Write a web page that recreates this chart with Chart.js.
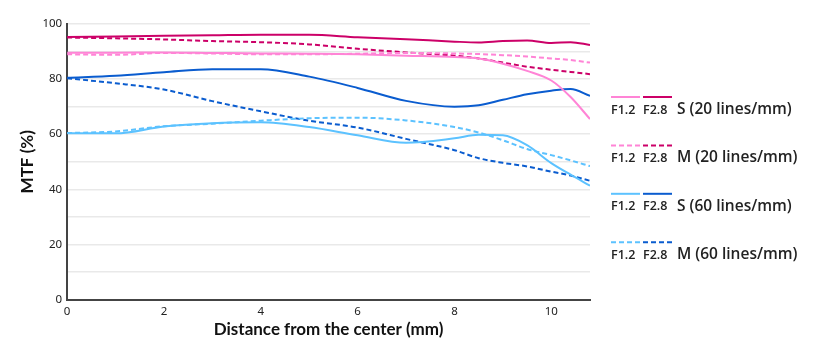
<!DOCTYPE html>
<html>
<head>
<meta charset="utf-8">
<style>
  html, body { margin: 0; padding: 0; background: #fff; }
  #wrap { width: 818px; height: 358px; position: relative; }
</style>
</head>
<body>
<div id="wrap">
    <canvas id="mtfChart"></canvas>
</div>
<script src="https://cdn.jsdelivr.net/npm/chart.js"></script>
<script>
    // distance from the center (mm)
    var distances = [0, 1, 2, 3, 4, 5, 6, 7, 8, 8.5, 9, 9.5, 10, 10.4, 10.8];

    // MTF values (%)
    var s20_f12 = [89.6, 89.6, 89.7, 89.5, 89.3, 89.2, 89.0, 88.5, 88.0, 87.5, 85.6, 83.0, 79.5, 73.5, 65.5];
    var s20_f28 = [95.3, 95.5, 95.7, 95.9, 96.1, 96.1, 95.2, 94.5, 93.6, 93.3, 93.8, 94.0, 93.1, 93.4, 92.4];
    var m20_f12 = [89.0, 88.8, 89.5, 89.3, 89.0, 89.0, 89.2, 89.5, 89.3, 89.1, 88.7, 88.2, 87.5, 86.9, 86.0];
    var m20_f28 = [95.1, 94.8, 94.4, 93.8, 93.4, 92.6, 91.0, 89.7, 88.5, 87.5, 86.0, 84.5, 83.4, 82.6, 81.8];
    var s60_f12 = [60.3, 60.3, 62.8, 64.0, 64.3, 62.6, 59.6, 56.9, 58.5, 59.8, 59.6, 56.0, 49.5, 45.3, 41.3];
    var s60_f28 = [80.5, 81.2, 82.5, 83.6, 83.6, 80.9, 76.8, 72.1, 70.0, 70.5, 72.5, 74.5, 75.8, 76.4, 73.9];
    var m60_f12 = [60.4, 61.0, 62.9, 63.8, 64.9, 65.8, 66.0, 65.0, 62.6, 60.6, 57.8, 54.6, 52.4, 50.5, 48.4];
    var m60_f28 = [80.3, 78.5, 76.2, 72.0, 68.3, 64.9, 62.4, 58.3, 54.2, 51.3, 49.6, 48.3, 46.4, 45.0, 43.1];

    var legendLabels = ['S (20 lines/mm)', 'M (20 lines/mm)', 'S (60 lines/mm)', 'M (60 lines/mm)'];
    var apertureLabels = ['F1.2', 'F2.8'];

    var PINK = '#ff84d6';
    var MAGENTA = '#cc0068';
    var LIGHT_BLUE = '#5cc2ff';
    var DARK_BLUE = '#0a5ccf';
    var DASH = [5, 3];

    function pts(values) {
        return values.map(function (v, i) { return { x: distances[i], y: v }; });
    }

    function series(label, values, color, dashed) {
        return {
            label: label,
            data: pts(values),
            borderColor: color,
            borderWidth: 2,
            borderDash: dashed ? DASH : [],
            pointRadius: 0,
            fill: false,
            cubicInterpolationMode: 'monotone'
        };
    }

    // legend drawn on the right side of the canvas
    var sideLegend = {
        id: 'sideLegend',
        afterDraw: function (chart) {
            var ctx = chart.ctx;
            var rows = [
                [PINK, MAGENTA, false],
                [PINK, MAGENTA, true],
                [LIGHT_BLUE, DARK_BLUE, false],
                [LIGHT_BLUE, DARK_BLUE, true]
            ];
            ctx.save();
            rows.forEach(function (r, i) {
                var y = 97 + i * 48.4;
                ctx.lineWidth = 2;
                ctx.setLineDash(r[2] ? DASH : []);
                ctx.strokeStyle = r[0];
                ctx.beginPath(); ctx.moveTo(611, y); ctx.lineTo(640, y); ctx.stroke();
                ctx.strokeStyle = r[1];
                ctx.beginPath(); ctx.moveTo(643, y); ctx.lineTo(672, y); ctx.stroke();
                ctx.setLineDash([]);
                ctx.fillStyle = '#222';
                ctx.textBaseline = 'alphabetic';
                ctx.font = '600 12.5px "Open Sans"';
                ctx.fillText(apertureLabels[0], 611, y + 16.5);
                ctx.fillText(apertureLabels[1], 643, y + 16.5);
                ctx.font = '600 15.5px "Open Sans"';
                ctx.fillText(legendLabels[i], 677, y + 17);
            });
            ctx.restore();
        }
    };

    document.addEventListener('DOMContentLoaded', function () {
        var ctx = document.getElementById('mtfChart').getContext('2d');
        new Chart(ctx, {
            type: 'line',
            data: {
                datasets: [
                    series('S20 F1.2', s20_f12, PINK, false),
                    series('M20 F1.2', m20_f12, PINK, true),
                    series('S60 F1.2', s60_f12, LIGHT_BLUE, false),
                    series('M60 F1.2', m60_f12, LIGHT_BLUE, true),
                    series('M20 F2.8', m20_f28, MAGENTA, true),
                    series('S20 F2.8', s20_f28, MAGENTA, false),
                    series('M60 F2.8', m60_f28, DARK_BLUE, true),
                    series('S60 F2.8', s60_f28, DARK_BLUE, false)
                ]
            },
            options: {
                responsive: true,
                maintainAspectRatio: false,
                animation: false,
                layout: { padding: { top: 24, right: 228, left: 13, bottom: 20 } },
                plugins: {
                    legend: { display: false },
                    tooltip: { enabled: false }
                },
                scales: {
                    x: {
                        type: 'linear',
                        min: 0,
                        max: 10.8,
                        border: { color: '#444', width: 2 },
                        grid: { display: false, drawTicks: false },
                        ticks: {
                            stepSize: 2,
                            includeBounds: false,
                            maxRotation: 0,
                            padding: 6,
                            color: '#222',
                            font: { family: 'Noto Sans', size: 11.5, lineHeight: 1 }
                        },
                        title: {
                            display: true,
                            text: 'Distance from the center (mm)',
                            color: '#111',
                            font: { family: 'Lato', size: 17, weight: 'bold', lineHeight: 1 },
                            padding: { top: -2, bottom: 0 }
                        }
                    },
                    y: {
                        min: 0,
                        max: 100,
                        border: { color: '#444', width: 2 },
                        grid: { color: '#e9e9e9', lineWidth: 1.5, drawTicks: false },
                        ticks: {
                            stepSize: 10,
                            padding: 5,
                            color: '#222',
                            font: { family: 'Noto Sans', size: 11.5 },
                            callback: function (v) { return v % 20 === 0 ? v : ''; }
                        },
                        title: {
                            display: true,
                            text: 'MTF (%)',
                            color: '#111',
                            font: { family: 'Lato', size: 17, weight: 'bold' },
                            padding: { bottom: 0 }
                        }
                    }
                }
            },
            plugins: [sideLegend]
        });
    });
</script>
</body>
</html>
